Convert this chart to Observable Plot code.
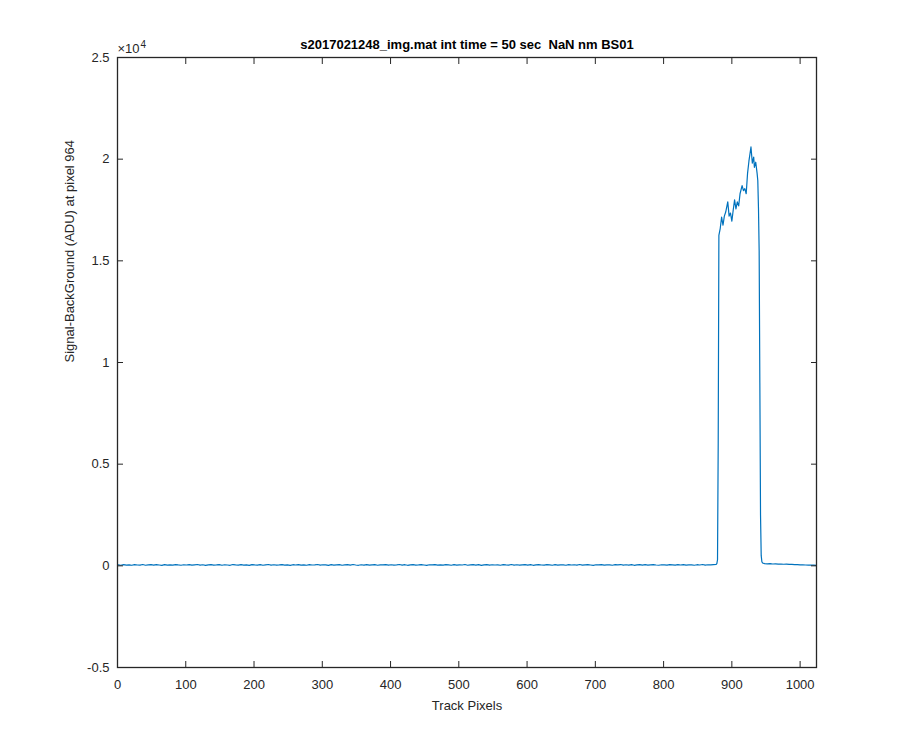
<!DOCTYPE html>
<html><head><meta charset="utf-8">
<script src="https://cdn.jsdelivr.net/npm/d3@7"></script>
<script src="https://cdn.jsdelivr.net/npm/@observablehq/plot@0.6"></script>
<style>body{margin:0;background:#fff}</style>
</head><body><div id="chart"></div>
<script>
// Baseline (track pixels 1, 5, 9, ... 873), ADU
const baselineLeft = [
45,30,62,38,51,27,58,41,35,66,29,48,55,33,60,42,25,57,39,50,
36,63,44,28,52,40,59,31,47,65,34,53,26,49,61,37,43,56,30,54,
41,27,64,46,33,58,39,50,24,62,45,35,57,29,48,66,38,52,31,44,
60,36,47,25,55,42,63,34,51,28,59,40,46,67,32,54,43,26,58,37,
49,61,30,45,56,35,64,41,27,53,39,60,33,48,57,29,50,44,62,36,
52,31,46,65,38,55,27,49,60,34,43,58,40,25,54,47,63,32,51,39,
57,44,28,61,36,50,42,66,30,48,55,37,59,26,45,62,34,53,40,47,
29,58,43,35,64,39,52,31,47,60,38,56,27,49,63,41,33,55,46,30,
61,37,50,44,28,59,42,54,35,65,32,48,57,40,26,53,45,62,36,51,
43,30,56,47,64,34,52,39,58,27,46,61,38,55,33,49,60,41,29,54,
45,36,59,48,31,57,42,63,37,50,44,28,55,40,66,33,52,47,60
];
const baselineLeftStart = 1, baselineStep = 4;

// Signal region
const peakPixels = [877,878,879,880,881,883,885,887,889,891,894,896,898,900,902,904,906,908,910,912,915,917,919,921,923,925,928,930,932,933,935,937,938,939,940,941,942,943,944,945];
const peakValues = [70,110,300,6000,16250,16600,17150,16750,17200,17400,17900,17200,17350,16950,17500,18000,17550,17900,17700,18300,18700,18450,18550,18300,19300,19900,20600,19800,20100,19600,19850,19300,18950,17600,15500,9000,2500,500,200,140];

// Baseline after the signal (track pixels 948, 952, ... 1024)
const baselineRight = [110,98,106,90,95,84,88,78,82,70,68,62,57,52,46,42,38,34,30,26];
const baselineRightStart = 948;

const xTicks = [0,100,200,300,400,500,600,700,800,900,1000];
const yTicks = [-5000,0,5000,10000,15000,20000,25000];

const data = [];
baselineLeft.forEach((v,i)=>data.push({px: baselineLeftStart + baselineStep*i, adu: v}));
peakPixels.forEach((p,i)=>data.push({px: p, adu: peakValues[i]}));
baselineRight.forEach((v,i)=>data.push({px: baselineRightStart + baselineStep*i, adu: v}));

const ink = "#262626";
const chart = Plot.plot({
  width: 900, height: 750,
  marginLeft: 117, marginRight: 84, marginTop: 57, marginBottom: 83,
  style: {fontFamily: "'Liberation Sans', Arial, Helvetica, sans-serif", fontSize: "13px", color: ink, background: "#fff"},
  x: {domain: [0, 1024]},
  y: {domain: [-5000, 25000]},
  marks: [
    Plot.line(data, {x: "px", y: "adu", stroke: "#0072BD", strokeWidth: 1.2}),
    Plot.axisX({anchor: "bottom", ticks: xTicks, tickSize: -6, tickPadding: 18, label: null, tickFormat: d => String(d)}),
    Plot.axisX({anchor: "top", ticks: xTicks, tickSize: -6, label: null, tickFormat: () => ""}),
    Plot.axisY({anchor: "left", ticks: yTicks, tickSize: -6, tickPadding: 14, label: null, tickFormat: d => String(d/1e4)}),
    Plot.axisY({anchor: "right", ticks: yTicks, tickSize: -6, label: null, tickFormat: () => ""}),
    Plot.frame({stroke: ink, strokeWidth: 1.3}),
    Plot.text(["s2017021248_img.mat int time = 50 sec  NaN nm BS01"], {frameAnchor: "top", lineAnchor: "middle", dy: -13, text: d => d, fontWeight: "bold", fontSize: 13, fill: "#000"}),
    Plot.text(["×10"], {frameAnchor: "top-left", lineAnchor: "middle", dy: -9, dx: 0, textAnchor: "start", text: d => d, fontSize: 13, fill: ink}),
    Plot.text(["4"], {frameAnchor: "top-left", lineAnchor: "middle", dy: -13, dx: 23, textAnchor: "start", text: d => d, fontSize: 10, fill: ink}),
    Plot.text(["Track Pixels"], {frameAnchor: "bottom", lineAnchor: "middle", dy: 38, text: d => d, fontSize: 13, fill: ink}),
    Plot.text(["Signal-BackGround (ADU) at pixel 964"], {frameAnchor: "left", lineAnchor: "middle", dx: -48, rotate: -90, text: d => d, fontSize: 13, fill: ink})
  ]
});
document.getElementById("chart").append(chart);
</script>
</body></html>
